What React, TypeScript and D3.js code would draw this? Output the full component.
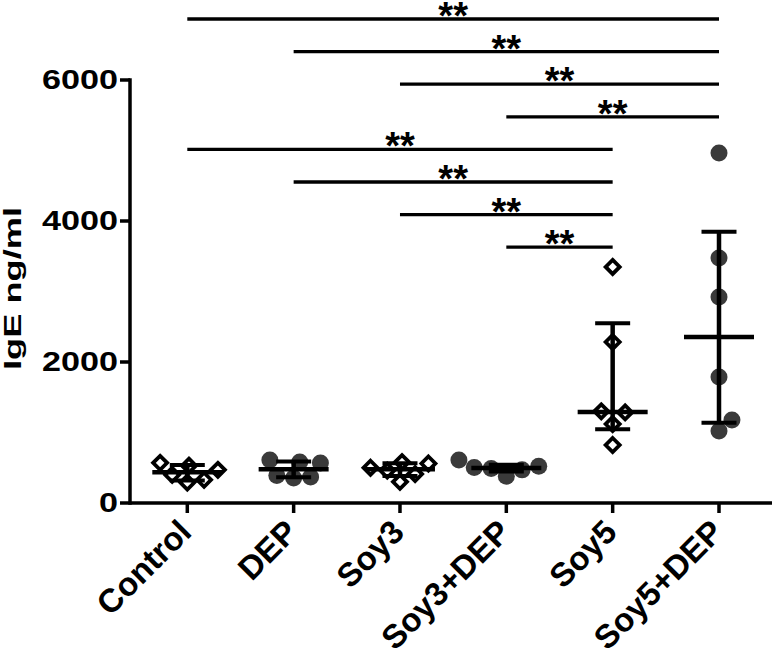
import React from "react";
import * as d3 from "d3";

const categories = ["Control", "DEP", "Soy3", "Soy3+DEP", "Soy5", "Soy5+DEP"];
const markerShapes = ["diamond", "circle", "diamond", "circle", "diamond", "circle"];

const controlValues = [570, 530, 470, 400, 330, 290];
const depValues = [610, 580, 567, 390, 370, 355];
const soy3Values = [580, 560, 500, 460, 410, 300];
const soy3DepValues = [610, 520, 505, 490, 470, 380];
const soy5Values = [3348, 2284, 1300, 1285, 1121, 823];
const soy5DepValues = [4965, 3475, 2922, 1787, 1177, 1021];

const groupValues = [controlValues, depValues, soy3Values, soy3DepValues, soy5Values, soy5DepValues];

const yTicks = [0, 2000, 4000, 6000];
const yLabel = "IgE ng/ml";

// significance comparisons: [from index, to index, label]
const comparisons: [number, number, string][] = [
  [0, 5, "**"],
  [1, 5, "**"],
  [2, 5, "**"],
  [3, 5, "**"],
  [0, 4, "**"],
  [1, 4, "**"],
  [2, 4, "**"],
  [3, 4, "**"],
];

const W = 775;
const H = 661;
const FONT = "'Liberation Sans', Arial, Helvetica, sans-serif";

function quantilePrism(sorted: number[], p: number) {
  const n = sorted.length;
  const pos = (n + 1) * p;
  const lo = Math.floor(pos);
  const frac = pos - lo;
  if (lo < 1) return sorted[0];
  if (lo >= n) return sorted[n - 1];
  return sorted[lo - 1] + frac * (sorted[lo] - sorted[lo - 1]);
}

function beeswarm(ys: number[], r: number) {
  const order = ys.map((_, i) => i).sort((a, b) => ys[b] - ys[a]);
  const placed: { x: number; y: number }[] = [];
  const offsets = new Array(ys.length).fill(0);
  for (const i of order) {
    const y = ys[i];
    let best = 0;
    const candidates: number[] = [0];
    for (const p of placed) {
      const dy = Math.abs(p.y - y);
      if (dy < 2 * r) {
        const dx = Math.sqrt(4 * r * r - dy * dy);
        candidates.push(p.x + dx, p.x - dx);
      }
    }
    candidates.sort((a, b) => Math.abs(a) - Math.abs(b));
    for (const c of candidates) {
      const ok = placed.every((p) => (p.x - c) ** 2 + (p.y - y) ** 2 >= 4 * r * r - 0.5);
      if (ok) {
        best = c;
        break;
      }
    }
    offsets[i] = best;
    placed.push({ x: best, y });
  }
  return offsets;
}

export default function App() {
  const x = d3.scalePoint<string>().domain(categories).range([187.3, 719]);
  const y = d3.scaleLinear().domain([0, 6000]).range([503, 80]);
  const axisLeft = 130;
  const axisRight = 772;

  const groups = categories.map((c, gi) => {
    const vals = groupValues[gi];
    const sorted = [...vals].sort((a, b) => a - b);
    const med = d3.median(sorted) as number;
    const q1 = quantilePrism(sorted, 0.25);
    const q3 = quantilePrism(sorted, 0.75);
    const ys = vals.map((v) => y(v));
    const offs = beeswarm(ys, 8.5);
    return { c, gi, vals, med, q1, q3, ys, offs, cx: x(c) as number };
  });

  const diamondPath = (cx: number, cy: number, s: number) =>
    `M${cx},${cy - s}L${cx + s},${cy}L${cx},${cy + s}L${cx - s},${cy}Z`;

  return (
    <svg
      width={W}
      height={H}
      style={{ position: "absolute", left: 0, top: 0, background: "#fff" }}
      fontFamily={FONT}
    >
      {/* Y axis */}
      <line x1={axisLeft} x2={axisLeft} y1={y(6000)} y2={y(0)} stroke="#000" strokeWidth={3.5} strokeLinecap="square" />
      {yTicks.map((t) => (
        <g key={t}>
          <line x1={axisLeft - 10} x2={axisLeft} y1={y(t)} y2={y(t)} stroke="#000" strokeWidth={3.5} />
          <text
            x={118}
            y={y(t)}
            textAnchor="end"
            dominantBaseline="central"
            fontSize={28}
            fontWeight="bold"
            transform={`translate(118,0) scale(1.22,1) translate(-118,0)`}
          >
            {t}
          </text>
        </g>
      ))}
      <text
        transform={`translate(21,${(207 + 370) / 2}) rotate(-90)`}
        textAnchor="middle"
        fontSize={24}
        fontWeight="bold"
        textLength={163}
        lengthAdjust="spacingAndGlyphs"
      >
        {yLabel}
      </text>

      {/* X axis */}
      <line x1={axisLeft} x2={axisRight} y1={y(0)} y2={y(0)} stroke="#000" strokeWidth={3.5} />
      {categories.map((c) => (
        <g key={c}>
          <line x1={x(c)} x2={x(c)} y1={y(0)} y2={y(0) + 10} stroke="#000" strokeWidth={3.5} />
          <text
            transform={`translate(${(x(c) as number) + 6},534) rotate(-45)`}
            textAnchor="end"
            fontSize={33}
            fontWeight="bold"
          >
            {c}
          </text>
        </g>
      ))}

      {/* points */}
      {groups.map((g) =>
        g.vals.map((v, i) => {
          const px = g.cx + g.offs[i];
          const py = g.ys[i];
          return markerShapes[g.gi] === "diamond" ? (
            <path key={`${g.c}-${i}`} d={diamondPath(px, py, 7)} fill="#fff" stroke="#000" strokeWidth={3.8} strokeLinejoin="miter" />
          ) : (
            <circle key={`${g.c}-${i}`} cx={px} cy={py} r={8.5} fill="#3a3a3a" />
          );
        })
      )}

      {/* median + IQR */}
      {groups.map((g) => (
        <g key={`s-${g.c}`} stroke="#000">
          <line x1={g.cx} x2={g.cx} y1={y(g.q1)} y2={y(g.q3)} strokeWidth={4.5} />
          <line x1={g.cx - 17.5} x2={g.cx + 17.5} y1={y(g.q1)} y2={y(g.q1)} strokeWidth={4} />
          <line x1={g.cx - 17.5} x2={g.cx + 17.5} y1={y(g.q3)} y2={y(g.q3)} strokeWidth={4} />
          <line x1={g.cx - 35} x2={g.cx + 35} y1={y(g.med)} y2={y(g.med)} strokeWidth={4.5} />
        </g>
      ))}

      {/* significance */}
      {comparisons.map(([a, b, lab], i) => {
        const ly = 19 + i * 32.6;
        const x1 = x(categories[a]) as number;
        const x2 = x(categories[b]) as number;
        const mx = (x1 + x2) / 2;
        return (
          <g key={`c-${i}`}>
            <line x1={x1} x2={x2} y1={ly} y2={ly} stroke="#000" strokeWidth={3.3} />
            <text x={mx} y={ly + 10} textAnchor="middle" fontSize={38} fontWeight="bold">
              {lab}
            </text>
          </g>
        );
      })}
    </svg>
  );
}
